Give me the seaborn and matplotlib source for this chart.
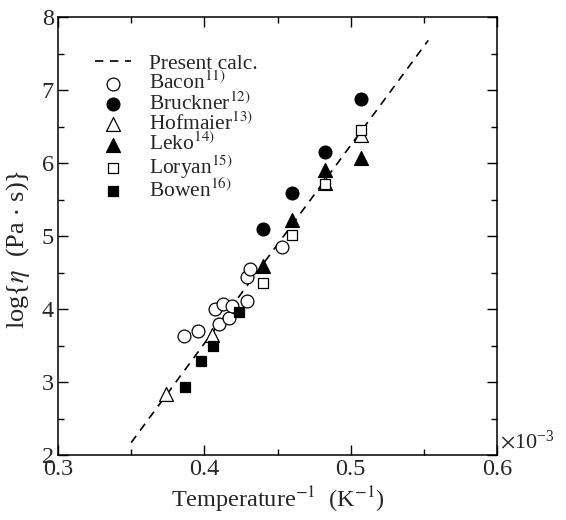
import matplotlib
matplotlib.use("Agg")
import matplotlib.pyplot as plt
import seaborn as sns
import pandas as pd

# ---- data ----
calc_x = [0.350, 0.553]
calc_y = [2.17, 7.68]

bacon_x = [0.386, 0.396, 0.407, 0.410, 0.413, 0.417, 0.419, 0.429, 0.429, 0.431, 0.453]
bacon_y = [3.63, 3.70, 4.00, 3.80, 4.07, 3.87, 4.04, 4.11, 4.44, 4.55, 4.85]

bruckner_x = [0.440, 0.460, 0.4825, 0.507]
bruckner_y = [5.09, 5.59, 6.15, 6.87]

hofmaier_x = [0.374, 0.405, 0.4825, 0.507]
hofmaier_y = [2.84, 3.64, 5.73, 6.38]

leko_x = [0.440, 0.460, 0.4825, 0.507]
leko_y = [4.59, 5.22, 5.90, 6.07]

loryan_x = [0.440, 0.460, 0.4825, 0.507]
loryan_y = [4.36, 5.01, 5.71, 6.45]

bowen_x = [0.387, 0.398, 0.406, 0.424]
bowen_y = [2.93, 3.29, 3.50, 3.96]

x_ticks = [0.3, 0.4, 0.5, 0.6]
x_tick_labels = ["0.3", "0.4", "0.5", "0.6"]
x_minor = [0.35, 0.45, 0.55]
y_ticks = [2, 3, 4, 5, 6, 7, 8]
y_tick_labels = ["2", "3", "4", "5", "6", "7", "8"]
y_minor = [2.5, 3.5, 4.5, 5.5, 6.5, 7.5]

# ---- style ----
sns.set_theme(style="ticks")
plt.rcParams["font.family"] = ["Liberation Serif", "DejaVu Serif"]
plt.rcParams["mathtext.fontset"] = "stix"

fig = plt.figure(figsize=(5.66, 5.2), dpi=100)
ax = fig.add_axes([0.1025, 0.125, 0.7756, 0.8423])

sns.lineplot(x=calc_x, y=calc_y, ax=ax, color="black", lw=1.2,
             ls=(0, (5, 4)), label="Present calc.")

series = [
    ("Bacon$^{\\mathrm{11)}}$", bacon_x, bacon_y, "o", "white", 85),
    ("Bruckner$^{\\mathrm{12)}}$", bruckner_x, bruckner_y, "o", "black", 85),
    ("Hofmaier$^{\\mathrm{13)}}$", hofmaier_x, hofmaier_y, "^", "white", 100),
    ("Leko$^{\\mathrm{14)}}$", leko_x, leko_y, "^", "black", 100),
    ("Loryan$^{\\mathrm{15)}}$", loryan_x, loryan_y, "s", "white", 62),
    ("Bowen$^{\\mathrm{16)}}$", bowen_x, bowen_y, "s", "black", 62),
]
for label, xs, ys, m, fc, s in series:
    df = pd.DataFrame({"x": xs, "y": ys})
    sns.scatterplot(data=df, x="x", y="y", ax=ax, marker=m, s=s,
                    color=fc, edgecolor="black", linewidth=0.9,
                    label=label, zorder=3)

ax.set_xlim(0.3, 0.6)
ax.set_ylim(2, 8)
ax.set_xticks(x_ticks)
ax.set_xticklabels(x_tick_labels)
ax.set_xticks(x_minor, minor=True)
ax.set_yticks(y_ticks)
ax.set_yticklabels(y_tick_labels)
ax.set_yticks(y_minor, minor=True)
ax.tick_params(which="both", direction="in", top=True, right=True,
               color="black", width=1.0)
ax.tick_params(which="major", length=7, labelsize=17.5, pad=3)
ax.tick_params(which="minor", length=4)
for sp in ax.spines.values():
    sp.set_linewidth(1.1)
    sp.set_color("black")

ax.set_xlabel("Temperature$^{\\mathrm{-1}}$  (K$^{\\mathrm{-1}}$)",
              fontsize=17.5, labelpad=3)
ax.set_ylabel("log{$\\eta$  (Pa $\\cdot$ s)}", fontsize=19)
ax.yaxis.set_label_coords(-0.06, 0.47)

ax.text(1.007, 0.016, "$\\times\\mathregular{10^{-3}}$", transform=ax.transAxes,
        fontsize=16, va="baseline", ha="left")

ax.legend(loc="upper left", bbox_to_anchor=(0.084, 0.916), frameon=False,
          fontsize=15.5, handlelength=1.7, handletextpad=0.8,
          labelspacing=-0.1, borderpad=0, borderaxespad=0)

fig.savefig("out.png", dpi=100)
